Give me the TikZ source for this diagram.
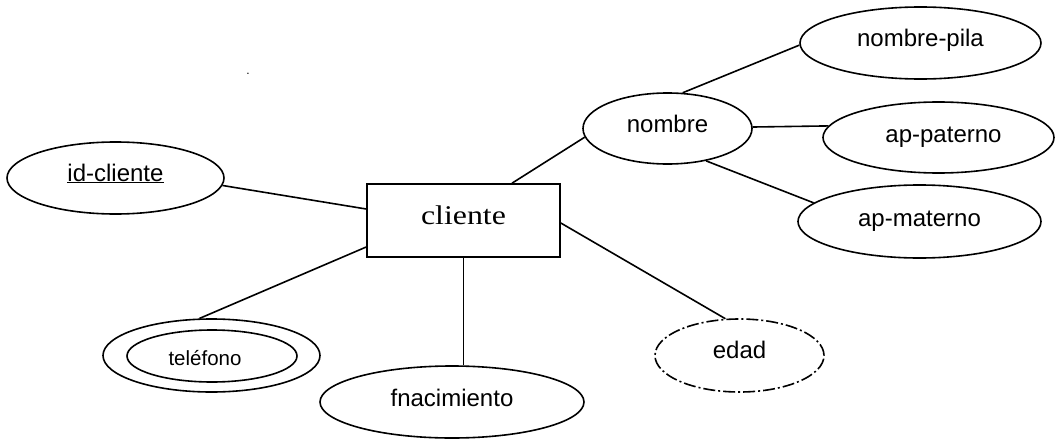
\documentclass[tikz,border=0pt]{standalone}
\usepackage{fontspec}
\usepackage{graphicx}
\setmainfont{Liberation Sans}
\newfontfamily\timesfont{Liberation Serif}
\usetikzlibrary{shapes.geometric}
\begin{document}
\begin{tikzpicture}[x=1pt,y=-1pt,line width=1.6pt,
  attr/.style={ellipse,draw,inner sep=0pt,text depth=0pt,font=\fontsize{24}{28}\selectfont},
  entity/.style={rectangle,draw,inner sep=0pt,text depth=0pt},
  dashdot/.style={dash pattern=on 12pt off 3pt on 2pt off 3pt}]
\useasboundingbox (0,0) rectangle (1055,439);
% entity
\node[entity,minimum width=193pt,minimum height=73pt,text height=7pt] (cliente) at (463.5,220.5)
  {\timesfont\fontsize{27}{30}\selectfont\scalebox{1.18}[1]{cliente}};
% attributes
\node[attr,minimum width=217pt,minimum height=72pt,text height=6pt] (idc) at (115.5,178) {\underline{id-cliente}};
\node[attr,minimum width=169pt,minimum height=71pt,text height=7.6pt] (nombre) at (667.5,128.5) {nombre};
\node[attr,minimum width=241pt,minimum height=72pt,text height=7.4pt] (npila) at (920.5,43) {nombre-pila};
\node[attr,minimum width=231pt,minimum height=71pt,text height=10.4pt] (apat) at (938.5,137.5) {\hspace*{10pt}ap-paterno};
\node[attr,minimum width=243pt,minimum height=73pt,text height=10.4pt] (amat) at (919.5,221.5) {ap-materno};
\node[attr,minimum width=217pt,minimum height=73pt] (tel) at (211.5,355.5) {};
\node[attr,minimum width=170pt,minimum height=52pt,text height=18pt,font=\fontsize{20.5}{24}\selectfont] (telin) at (212,356) {\hspace*{-14pt}teléfono};
\node[attr,minimum width=264pt,minimum height=72pt,text height=9.4pt] (fnac) at (452,402) {fnacimiento};
\node[attr,dashdot,minimum width=169pt,minimum height=73pt,text height=5.6pt] (edad) at (739.5,355.5) {edad};
% stray dot
\node[inner sep=0pt,font=\fontsize{12}{14}\selectfont] (dot) at (248,74) {.};
% connectors
\draw (idc.356) -- ([yshift=11.5pt]cliente.west);
\draw (nombre.186.5) -- ([xshift=48.5pt]cliente.north);
\draw (nombre.67.8) -- (npila.181.9);
\draw (nombre.1) -- (apat.174.6);
\draw (nombre.320) -- (amat.170.1);
\draw ([yshift=-26.5pt]cliente.west) -- (tel.108.9);
\draw (cliente.south) -- (cliente.south |- fnac.north);
\draw ([yshift=-2.5pt]cliente.east) -- (edad.111);
\end{tikzpicture}
\end{document}
